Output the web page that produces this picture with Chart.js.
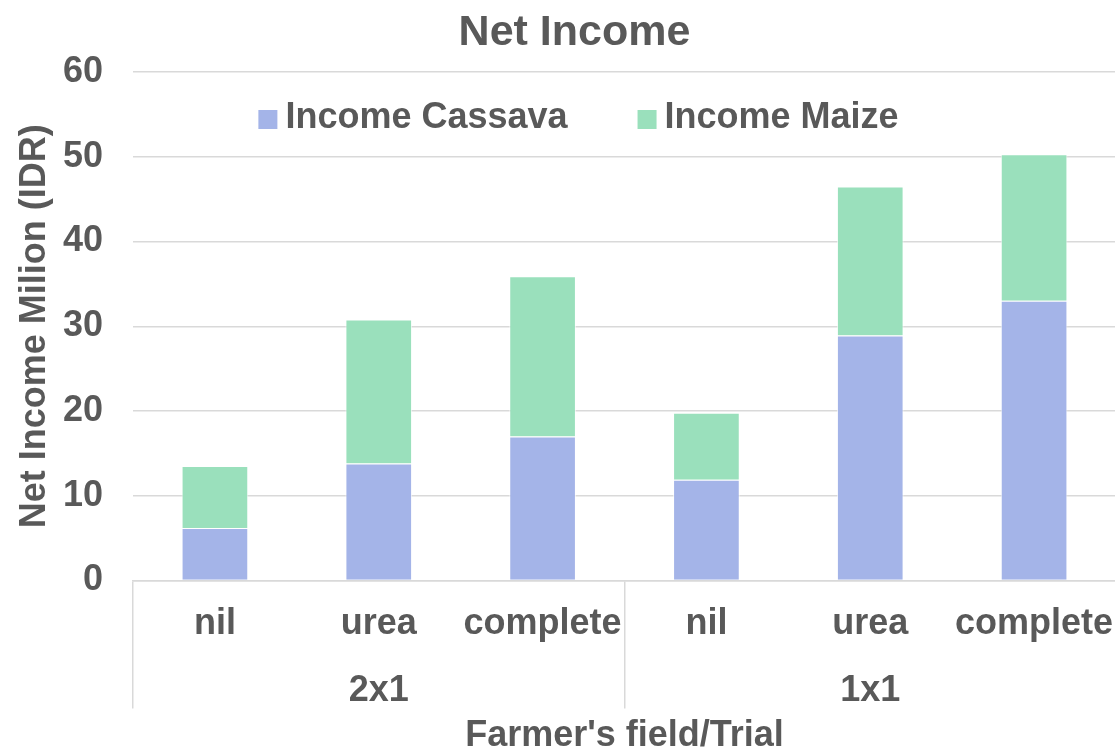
<!DOCTYPE html>
<html lang="en">
<head>
<meta charset="UTF-8">
<title>Net Income</title>
<script src="https://cdn.jsdelivr.net/npm/chart.js@4.4.1/dist/chart.umd.min.js"></script>
<style>
  html, body { margin: 0; padding: 0; background: #fff; overflow: hidden; }
  canvas { display: block; }
</style>
</head>
<body>
<canvas id="chart" width="1149" height="751"></canvas>
<script>
// data (million IDR)
const treatments = ['nil', 'urea', 'complete', 'nil', 'urea', 'complete'];
const spacings = ['2x1', '1x1'];
const incomeCassava = [6.2, 13.8, 17.0, 11.9, 28.9, 33.0];
const incomeMaize = [7.3, 17.0, 18.9, 7.9, 17.6, 17.3];

const textColor = '#595959';
const gridColor = '#D9D9D9';
const fontFamily = '"Liberation Sans", Arial, sans-serif';

// legend sits inside the plot area, between the 60 and 50 lines
const insideLegend = {
  id: 'insideLegend',
  afterDraw(chart) {
    const { ctx, chartArea } = chart;
    const items = chart.data.datasets.map(ds => ({ text: ds.label, color: ds.backgroundColor }));
    ctx.save();
    ctx.font = 'bold 36px ' + fontFamily;
    const box = 19, gap = 8, spacing = 70;
    const widths = items.map(it => box + gap + ctx.measureText(it.text).width);
    const total = widths.reduce((a, b) => a + b, 0) + spacing * (items.length - 1);
    let x = chart.width / 2 + 4 - total / 2;
    const baseline = chartArea.top + 56;
    ctx.textBaseline = 'alphabetic';
    ctx.textAlign = 'left';
    items.forEach((it, i) => {
      ctx.fillStyle = it.color;
      ctx.fillRect(x, baseline - box + 1, box, box);
      ctx.fillStyle = textColor;
      ctx.fillText(it.text, x + box + gap, baseline);
      x += widths[i] + spacing;
    });
    ctx.restore();
  }
};

// only the group boundaries get a separator line under the axis
const groupLine = c => (c.index % 3 === 0 ? gridColor : 'rgba(0,0,0,0)');
const boldFont = { family: fontFamily, size: 36, weight: 'bold' };

const ctx = document.getElementById('chart').getContext('2d');
new Chart(ctx, {
  type: 'bar',
  data: {
    labels: treatments,
    datasets: [
      {
        label: 'Income Cassava',
        data: incomeCassava,
        backgroundColor: '#A4B4E8',
        borderColor: 'rgba(255,255,255,0.7)',
        borderWidth: 1
      },
      {
        label: 'Income Maize',
        data: incomeMaize,
        backgroundColor: '#9AE0BC',
        borderColor: 'rgba(255,255,255,0.7)',
        borderWidth: 1
      }
    ]
  },
  options: {
    responsive: false,
    animation: false,
    layout: { padding: 0 },
    datasets: {
      bar: { categoryPercentage: 1, barPercentage: 0.407 }
    },
    plugins: {
      legend: { display: false },
      tooltip: { enabled: false },
      title: {
        display: true,
        text: 'Net Income',
        color: textColor,
        font: { family: fontFamily, size: 43, weight: 'bold' },
        padding: { top: 7, bottom: 13.4 }
      }
    },
    scales: {
      x: {
        stacked: true,
        weight: 0,
        offset: true,
        grid: {
          offset: true,
          drawOnChartArea: false,
          drawTicks: true,
          tickLength: 128,
          lineWidth: 1.5,
          color: groupLine,
          tickColor: groupLine
        },
        border: { color: gridColor, width: 1.5 },
        ticks: {
          color: textColor,
          font: boldFont,
          padding: -106,
          maxRotation: 0,
          autoSkip: false
        },
        afterFit: s => { s.height = 63.2; }
      },
      x2: {
        type: 'category',
        labels: spacings,
        position: 'bottom',
        weight: 1,
        offset: true,
        grid: { display: false },
        border: { display: false },
        ticks: { color: textColor, font: boldFont, padding: 17.5, maxRotation: 0 },
        title: {
          display: true,
          text: "Farmer's field/Trial",
          color: textColor,
          font: { family: fontFamily, size: 36, weight: 'bold', lineHeight: 1 },
          padding: { top: 6, bottom: -3 }
        },
        afterFit: s => { s.height = 107.3; }
      },
      y: {
        stacked: true,
        min: 0,
        max: 60,
        ticks: { stepSize: 10, color: textColor, font: boldFont, padding: 30 },
        grid: { color: gridColor, lineWidth: 1.5, drawTicks: false },
        border: { display: false },
        title: {
          display: true,
          text: 'Net Income Milion (IDR)',
          color: textColor,
          font: { family: fontFamily, size: 36, weight: 'bold', lineHeight: 1 },
          padding: { top: 17, bottom: 10 }
        },
        afterFit: s => { s.width = 133; }
      },
      // empty right-hand strip: the plot runs past the picture's right edge
      yRight: {
        position: 'right',
        grid: { display: false },
        border: { display: false },
        ticks: { display: false },
        afterFit: s => { s.width = 33; }
      }
    }
  },
  plugins: [insideLegend]
});
</script>
</body>
</html>
